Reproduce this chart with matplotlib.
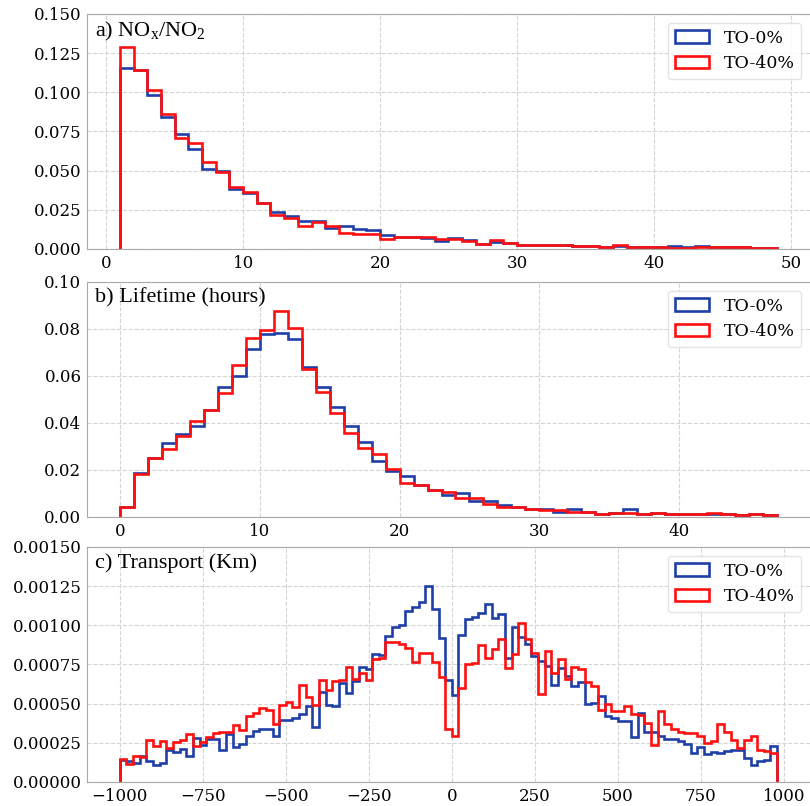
import numpy as np
import matplotlib
matplotlib.use("Agg")
from matplotlib import pyplot as plt

plt.rcParams['font.family'] = 'DejaVu Serif'
plt.rcParams['mathtext.fontset'] = 'custom'
plt.rcParams['mathtext.rm'] = 'Liberation Serif'
plt.rcParams['mathtext.it'] = 'Liberation Serif:italic'

labels = ['TO-0%', 'TO-40%']
colors = ['#1f3fa8', '#ff1010']
titles = [r'a) NO$_\mathrm{x}$/NO$_2$', 'b) Lifetime (hours)', 'c) Transport (Km)']

# a) NOx/NO2 ratio, bins of 1 from 1 to 49
edges_a = np.arange(1, 50)
blue_a = [0.1153, 0.114, 0.0985, 0.0845, 0.0736, 0.0638, 0.0509, 0.0495, 0.0383, 0.0355,
          0.0294, 0.0236, 0.021, 0.018, 0.0178, 0.0134, 0.0147, 0.013, 0.0121, 0.0087,
          0.0077, 0.0074, 0.0072, 0.0049, 0.0067, 0.006, 0.0034, 0.0047, 0.004, 0.0028,
          0.0026, 0.0028, 0.0028, 0.0017, 0.0019, 0.0015, 0.0019, 0.0013, 0.0015, 0.0015,
          0.0019, 0.0013, 0.0019, 0.0011, 0.0011, 0.0011, 0.0006, 0.0006]
red_a = [0.1287, 0.114, 0.1015, 0.086, 0.071, 0.0675, 0.0555, 0.049, 0.0398, 0.0366,
         0.0294, 0.0215, 0.0198, 0.0149, 0.0174, 0.0149, 0.010, 0.0094, 0.0094, 0.0066,
         0.0077, 0.0074, 0.0074, 0.0062, 0.0062, 0.0049, 0.0034, 0.0055, 0.004, 0.0028,
         0.0026, 0.0028, 0.0028, 0.0017, 0.0017, 0.0015, 0.0026, 0.0013, 0.0015, 0.0015,
         0.0009, 0.0006, 0.0011, 0.0011, 0.0011, 0.0011, 0.0006, 0.0006]

# b) lifetime in hours, bins of 1 from 0 to 47
edges_b = np.arange(0, 48)
blue_b = [0.0044, 0.0189, 0.0251, 0.0313, 0.0353, 0.0386, 0.0454, 0.0555, 0.0601, 0.0713,
          0.0779, 0.0784, 0.0756, 0.0637, 0.0552, 0.0469, 0.0389, 0.032, 0.0238, 0.0194,
          0.0173, 0.0135, 0.0115, 0.0094, 0.0101, 0.0069, 0.0067, 0.005, 0.0044, 0.0035,
          0.0034, 0.0023, 0.0033, 0.0023, 0.0013, 0.0018, 0.0034, 0.0012, 0.0016, 0.0012,
          0.0013, 0.0013, 0.0013, 0.0011, 0.0009, 0.0011, 0.0009]
red_b = [0.0044, 0.0182, 0.0251, 0.0288, 0.0345, 0.0409, 0.0454, 0.0526, 0.0645, 0.0762,
         0.0794, 0.0878, 0.0804, 0.063, 0.0532, 0.0444, 0.0356, 0.0295, 0.0267, 0.0203,
         0.0143, 0.0135, 0.0115, 0.0107, 0.008, 0.008, 0.0054, 0.0044, 0.0044, 0.0035,
         0.0031, 0.0031, 0.0023, 0.0023, 0.0013, 0.0018, 0.0016, 0.0012, 0.0016, 0.0012,
         0.0013, 0.0013, 0.0016, 0.0011, 0.0009, 0.0011, 0.0009]

# c) transport distance in km, bins of 20 from -1000 to 980
edges_c = np.arange(-1000, 1000, 20)
blue_c = [0.000139, 0.000132, 0.000121, 0.000164, 0.000136, 0.000107, 0.000121, 0.000207, 0.00019, 0.000211,
          0.000168, 0.000281, 0.000239, 0.000275, 0.000277, 0.000202, 0.000307, 0.000222, 0.000243, 0.000292,
          0.000324, 0.000339, 0.000341, 0.000296, 0.000398, 0.000398, 0.000409, 0.000437, 0.000488, 0.000349,
          0.000575, 0.00049, 0.000488, 0.000633, 0.000565, 0.000644, 0.000735, 0.000718, 0.000814, 0.000808,
          0.000931, 0.000989, 0.000999, 0.001093, 0.001117, 0.001151, 0.001251, 0.001106, 0.000916, 0.000648,
          0.000554, 0.000935, 0.001038, 0.001055, 0.001076, 0.001138, 0.001044, 0.00107, 0.000793, 0.000991,
          0.000925, 0.000882, 0.000803, 0.000771, 0.00074, 0.000622, 0.000729, 0.000676, 0.000612, 0.000639,
          0.000499, 0.000501, 0.000548, 0.00042, 0.000407, 0.000388, 0.000388, 0.000288, 0.000441, 0.00032,
          0.000318, 0.000296, 0.000275, 0.000275, 0.00026, 0.000245, 0.000185, 0.000224, 0.000181, 0.00019,
          0.000185, 0.000196, 0.000207, 0.000207, 0.000153, 0.000111, 0.000132, 0.000143, 0.000232]
red_c = [0.000149, 0.000117, 0.000164, 0.00016, 0.000271, 0.000232, 0.000264, 0.000217, 0.000254, 0.000271,
         0.000307, 0.000232, 0.000258, 0.000288, 0.000313, 0.000318, 0.000318, 0.000362, 0.00033, 0.00042,
         0.000441, 0.000471, 0.000458, 0.000373, 0.00049, 0.000509, 0.000479, 0.000616, 0.000541, 0.000494,
         0.000654, 0.00059, 0.000644, 0.000654, 0.000733, 0.000659, 0.000693, 0.000654, 0.000786, 0.000793,
         0.000893, 0.000895, 0.000882, 0.000857, 0.000767, 0.000825, 0.000825, 0.000765, 0.000671, 0.000335,
         0.000296, 0.000601, 0.00075, 0.000761, 0.000872, 0.000793, 0.000846, 0.000914, 0.000729, 0.000814,
         0.001012, 0.00091, 0.000825, 0.000563, 0.000835, 0.000697, 0.000782, 0.000659, 0.000735, 0.000722,
         0.000639, 0.000612, 0.000458, 0.000499, 0.000452, 0.000452, 0.000488, 0.000437, 0.00043, 0.000377,
         0.000239, 0.000456, 0.000373, 0.000341, 0.000318, 0.000313, 0.000313, 0.000292, 0.000249, 0.00026,
         0.000367, 0.000318, 0.000271, 0.000217, 0.000271, 0.000292, 0.000207, 0.000196, 0.000185]

panels = [
    (edges_a, blue_a, red_a, (-1.4, 51.4), (0, 0.15), np.arange(0, 51, 10), np.arange(0, 0.1501, 0.025)),
    (edges_b, blue_b, red_b, (-2.35, 49.35), (0, 0.10), np.arange(0, 41, 10), np.arange(0, 0.1001, 0.02)),
    (edges_c, blue_c, red_c, (-1099, 1079), (0, 0.0015), np.arange(-1000, 1001, 250), np.arange(0, 0.00151, 0.00025)),
]

fig = plt.figure(figsize=(8.1, 8.06), dpi=100)
bottoms = [0.6911, 0.3586, 0.0298]

for i, (edges, blue, red, xl, yl, xt, yt) in enumerate(panels):
    ax = fig.add_axes([0.1074, bottoms[i], 0.8926, 0.2916])
    ax.hist(edges[:-1], bins=edges, weights=blue, histtype='step', color=colors[0], lw=1.9, label=labels[0])
    ax.hist(edges[:-1], bins=edges, weights=red, histtype='step', color=colors[1], lw=1.9, label=labels[1])
    ax.set_xlim(xl)
    ax.set_ylim(yl)
    ax.set_xticks(xt)
    ax.set_yticks(yt)
    ax.grid(True, linestyle='--', color='#d4d4d4', lw=0.8)
    ax.set_axisbelow(True)
    for s in ['left', 'top', 'bottom']:
        ax.spines[s].set_color('#a8a8a8')
    ax.spines['right'].set_visible(False)
    ax.tick_params(length=0, labelsize=12, pad=4)
    ax.text(0.011, 0.975, titles[i], transform=ax.transAxes, va='top', ha='left',
            fontsize=16, family='Liberation Serif')
    ax.legend(loc='upper right', fontsize=12.5, framealpha=0.8, edgecolor='#dddddd')

fig.savefig('out.png', dpi=100)
